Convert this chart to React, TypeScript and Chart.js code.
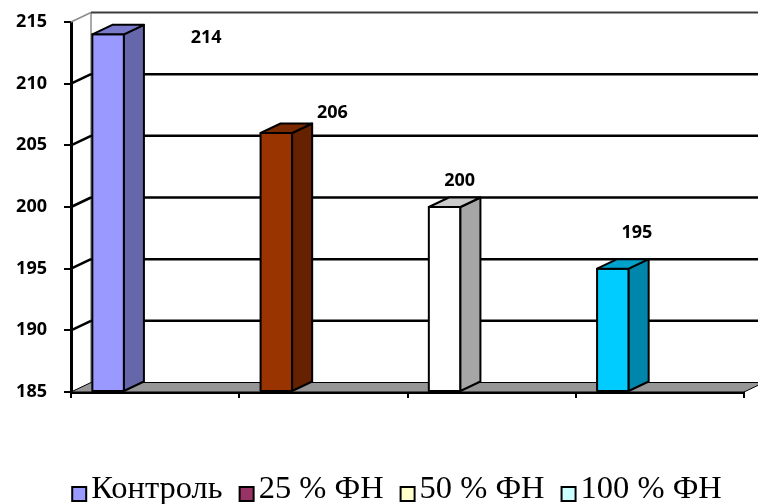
import React, { useEffect, useRef } from 'react';
import { Chart, registerables } from 'chart.js';

Chart.register(...registerables);

// Groups and their measured values
const groups = ['Контроль', '25 % ФН', '50 % ФН', '100 % ФН'];
const values = [214, 206, 200, 195];
const yMin = 185;
const yMax = 215;
const yStep = 5;

// Colours of the column faces and of the legend swatches
const barFront = ['#9999FF', '#993300', '#FFFFFF', '#00CCFF'];
const barSide = ['#6666AA', '#662200', '#A6A6A6', '#0086AA'];
const barTop = ['#7A7ACC', '#7A2900', '#CCCCCC', '#00A2CC'];
const legendFill = ['#9999FF', '#993366', '#FFFFCC', '#CCFFFF'];

// Where each value label sits relative to the top of its column (px)
const labelShift: [number, number][] = [[98, 4], [56, -20], [15, -26], [24, -36]];

// Oblique depth of the 3-D box
const DX = 20;
const DY = -9.5;

const valueFont = 'bold 18px "Open Sans"';
const legendFont = '32.5px "Liberation Serif"';

const boxPlugin = {
  id: 'box3d',
  beforeDatasetsDraw(chart: any) {
    const { ctx, chartArea: a, scales } = chart;
    const y = scales.y;
    ctx.save();
    // back wall: left edge
    ctx.strokeStyle = '#8c8c8c';
    ctx.lineWidth = 1.5;
    ctx.beginPath();
    ctx.moveTo(a.left + DX, y.getPixelForValue(yMax) + DY);
    ctx.lineTo(a.left + DX, y.getPixelForValue(yMin) + DY);
    ctx.stroke();
    // grid lines: slanted on the side wall, horizontal on the back wall
    y.ticks.forEach((t: any) => {
      const v = t.value;
      if (v === yMin) return;
      const py = y.getPixelForValue(v);
      const top = v === yMax;
      ctx.lineWidth = top ? 1.5 : 2.5;
      ctx.strokeStyle = top ? '#8c8c8c' : '#000';
      ctx.beginPath();
      ctx.moveTo(a.left, py);
      ctx.lineTo(a.left + DX, py + DY);
      ctx.stroke();
      ctx.strokeStyle = top ? '#3c3c3c' : '#000';
      ctx.lineWidth = top ? 2 : 2.5;
      ctx.beginPath();
      ctx.moveTo(a.left + DX, py + DY);
      ctx.lineTo(chart.width, py + DY);
      ctx.stroke();
    });
    // floor
    const fb = y.getPixelForValue(yMin);
    ctx.fillStyle = '#969696';
    ctx.strokeStyle = '#000';
    ctx.lineWidth = 1;
    ctx.beginPath();
    ctx.moveTo(a.left, fb);
    ctx.lineTo(a.right, fb);
    ctx.lineTo(a.right + DX, fb + DY);
    ctx.lineTo(a.left + DX, fb + DY);
    ctx.closePath();
    ctx.fill();
    ctx.stroke();
    ctx.restore();
  },
  afterDatasetsDraw(chart: any) {
    const { ctx } = chart;
    const meta = chart.getDatasetMeta(0);
    ctx.save();
    ctx.lineWidth = 2;
    ctx.lineJoin = 'round';
    ctx.strokeStyle = '#000';
    meta.data.forEach((bar: any, i: number) => {
      const { x, y, base, width } = bar.getProps(['x', 'y', 'base', 'width'], true);
      const l = x - width / 2;
      const r = x + width / 2;
      const face = (pts: number[][], fill: string) => {
        ctx.beginPath();
        ctx.moveTo(pts[0][0], pts[0][1]);
        for (let k = 1; k < pts.length; k++) ctx.lineTo(pts[k][0], pts[k][1]);
        ctx.closePath();
        ctx.fillStyle = fill;
        ctx.fill();
        ctx.stroke();
      };
      face([[l, y], [r, y], [r, base], [l, base]], barFront[i]);
      face([[r, y], [r + DX, y + DY], [r + DX, base + DY], [r, base]], barSide[i]);
      face([[l, y], [l + DX, y + DY], [r + DX, y + DY], [r, y]], barTop[i]);
      // value label
      ctx.fillStyle = '#000';
      ctx.font = valueFont;
      ctx.textAlign = 'center';
      ctx.textBaseline = 'middle';
      ctx.fillText(String(values[i]), x + labelShift[i][0], y + labelShift[i][1]);
    });
    ctx.restore();
  },
  afterDraw(chart: any) {
    // legend row
    const { ctx } = chart;
    ctx.save();
    ctx.font = legendFont;
    const box = 14;
    const gap = 5;
    const spacing = 17;
    const widths = groups.map((g) => box + gap + ctx.measureText(g).width);
    const total = widths.reduce((s, w) => s + w, 0) + spacing * (groups.length - 1);
    let x = chart.width / 2 + 18 - total / 2;
    const baseline = 498;
    groups.forEach((g, i) => {
      ctx.fillStyle = legendFill[i];
      ctx.fillRect(x, baseline - 11, box, box);
      ctx.strokeStyle = '#000';
      ctx.lineWidth = 2;
      ctx.strokeRect(x, baseline - 11, box, box);
      ctx.fillStyle = '#000';
      ctx.textAlign = 'left';
      ctx.textBaseline = 'alphabetic';
      ctx.fillText(g, x + box + gap, baseline);
      x += widths[i] + spacing;
    });
    ctx.restore();
  },
};

export default function App() {
  const ref = useRef<HTMLCanvasElement>(null);
  useEffect(() => {
    if (!ref.current) return;
    const chart = new Chart(ref.current, {
      type: 'bar',
      data: {
        labels: groups,
        datasets: [
          { data: values, base: yMin, backgroundColor: barFront, borderWidth: 0 },
          // empty slots that keep each column at the left of its group
          { data: groups.map(() => null), backgroundColor: 'transparent' },
          { data: groups.map(() => null), backgroundColor: 'transparent' },
        ],
      },
      options: {
        animation: false,
        responsive: false,
        devicePixelRatio: 1,
        categoryPercentage: 0.838,
        barPercentage: 0.672,
        layout: { autoPadding: false, padding: { top: 22, right: 14, left: 0, bottom: 0 } },
        plugins: { legend: { display: false }, tooltip: { enabled: false } },
        scales: {
          x: {
            type: 'category',
            offset: true,
            grid: { offset: true, drawOnChartArea: false, drawTicks: true, tickLength: 6, color: '#000', lineWidth: 2 },
            border: { display: true, color: '#000', width: 3 },
            ticks: { display: false },
            afterFit: (s: any) => { s.height = 112; s.paddingLeft = 0; s.paddingRight = 0; },
          },
          y: {
            min: yMin,
            max: yMax,
            beginAtZero: false,
            ticks: { stepSize: yStep, color: '#000', font: { family: 'Open Sans', size: 18, weight: 'bold' }, padding: 17 },
            grid: { drawOnChartArea: false, tickLength: 7, color: '#000', lineWidth: 2 },
            border: { display: true, color: '#000', width: 3 },
            afterFit: (s: any) => { s.width = 71; s.paddingTop = 0; s.paddingBottom = 0; },
          },
        },
      },
      plugins: [boxPlugin],
    });
    return () => chart.destroy();
  }, []);
  return (
    <div style={{ position: 'fixed', left: 0, top: 0, width: 758, height: 504, background: '#fff' }}>
      <canvas ref={ref} width={758} height={504} />
    </div>
  );
}
